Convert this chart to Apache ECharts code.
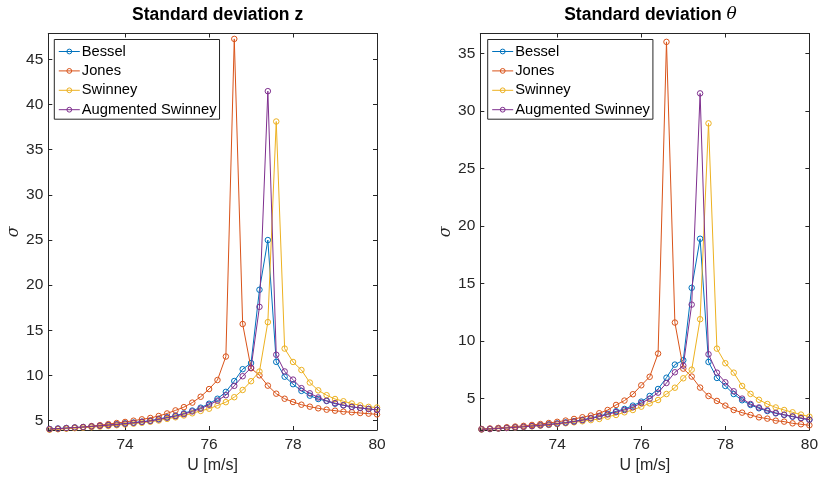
<!DOCTYPE html>
<html>
<head>
<meta charset="utf-8">
<script src="https://cdn.jsdelivr.net/npm/echarts@6/dist/echarts.min.js"></script>
<style>
html,body{margin:0;padding:0;background:#fff;}
#chart{width:821px;height:484px;}
</style>
</head>
<body>
<div id="chart"></div>
<script>
// Wind speed U [m/s]
var U = [72.2,72.4,72.6,72.8,73.0,73.2,73.4,73.6,73.8,74.0,
         74.2,74.4,74.6,74.8,75.0,75.2,75.4,75.6,75.8,76.0,
         76.2,76.4,76.6,76.8,77.0,77.2,77.4,77.6,77.8,78.0,
         78.2,78.4,78.6,78.8,79.0,79.2,79.4,79.6,79.8,80.0];

var seriesNames = ['Bessel','Jones','Swinney','Augmented Swinney'];

// Standard deviation z
var besselZ = [4.08,4.13,4.19,4.25,4.30,4.37,4.45,4.52,4.60,4.70,4.79,4.89,5.00,5.18,5.38,5.55,5.81,6.12,6.44,6.88,7.43,8.19,9.39,10.70,11.38,19.49,24.99,11.51,9.87,9.04,8.30,7.77,7.40,7.18,6.88,6.70,6.53,6.40,6.29,6.20];
var jonesZ = [4.05,4.08,4.15,4.22,4.30,4.40,4.50,4.62,4.74,4.86,5.00,5.15,5.30,5.52,5.80,6.14,6.50,7.00,7.65,8.50,9.50,12.10,47.25,15.70,10.80,10.02,8.88,7.99,7.43,7.07,6.77,6.55,6.37,6.22,6.11,6.00,5.93,5.85,5.78,5.70];
var swinneyZ = [4.00,4.06,4.12,4.17,4.23,4.28,4.35,4.42,4.50,4.58,4.67,4.77,4.88,5.02,5.20,5.38,5.58,5.82,6.08,6.33,6.68,7.05,7.60,8.40,9.37,10.44,15.91,38.11,12.98,11.50,10.61,9.22,8.36,7.82,7.40,7.15,6.90,6.70,6.53,6.46];
var augZ = [4.07,4.12,4.18,4.24,4.29,4.36,4.43,4.50,4.58,4.67,4.76,4.86,4.97,5.14,5.33,5.50,5.73,6.02,6.33,6.76,7.22,7.82,8.86,9.92,10.86,17.60,41.47,12.30,10.45,9.55,8.60,8.03,7.57,7.21,6.94,6.72,6.53,6.42,6.31,6.20];

// Standard deviation theta
var besselT = [2.30,2.33,2.38,2.43,2.48,2.53,2.59,2.66,2.73,2.81,2.90,3.00,3.12,3.28,3.46,3.66,3.87,4.07,4.36,4.71,5.20,5.81,6.79,7.93,8.31,14.61,18.88,8.16,6.77,6.07,5.37,4.83,4.42,4.13,3.89,3.69,3.55,3.40,3.26,3.13];
var jonesT = [2.33,2.37,2.42,2.48,2.54,2.60,2.68,2.76,2.85,2.95,3.06,3.20,3.35,3.50,3.70,3.98,4.42,4.80,5.35,6.13,6.87,8.89,36.01,11.59,7.58,6.89,5.93,5.20,4.77,4.36,3.98,3.75,3.55,3.34,3.23,3.05,2.97,2.82,2.74,2.65];
var swinneyT = [2.28,2.32,2.36,2.41,2.46,2.51,2.56,2.62,2.68,2.75,2.83,2.91,3.00,3.10,3.20,3.40,3.55,3.78,3.98,4.27,4.56,4.85,5.37,5.92,6.74,7.49,11.88,28.92,9.32,8.05,7.23,6.07,5.38,4.87,4.50,4.20,3.98,3.78,3.58,3.40];
var augT = [2.30,2.33,2.37,2.42,2.47,2.52,2.58,2.64,2.71,2.79,2.87,2.97,3.09,3.24,3.40,3.60,3.80,3.98,4.22,4.59,4.96,5.49,6.33,7.26,7.84,13.15,31.53,8.83,7.23,6.39,5.61,4.97,4.50,4.20,3.95,3.73,3.57,3.42,3.28,3.14];

var xTicks = [74,76,78,80];
var yTicksZ = [5,10,15,20,25,30,35,40,45];
var yTicksT = [5,10,15,20,25,30,35];

var colors = ['#0072BD','#D95319','#EDB120','#7E2F8E'];
var axisColor = '#262626';
var font = 'Liberation Sans, Arial, Helvetica, sans-serif';

var chart = echarts.init(document.getElementById('chart'), null, {renderer:'canvas'});

function pairs(vals){ return U.map(function(u,i){ return [u, vals[i]]; }); }

function mkX(gridIndex, pos, showLabel, withName){
  return {
    type:'value', gridIndex:gridIndex, position:pos, min:72.17, max:80,
    axisLine:{show:true, onZero:false, lineStyle:{color:axisColor, width:1}},
    axisTick:{show:true, inside:true, length:4, customValues:xTicks, lineStyle:{color:axisColor}},
    axisLabel:{show:showLabel, customValues:xTicks, color:axisColor, fontSize:15.5, fontFamily:font, margin:7},
    splitLine:{show:false},
    name: withName ? 'U [m/s]' : '',
    nameLocation:'middle', nameGap:27,
    nameTextStyle:{color:axisColor, fontSize:16, fontFamily:font}
  };
}
function mkY(gridIndex, pos, showLabel, min, max, ticks, withName, gap){
  return {
    type:'value', gridIndex:gridIndex, position:pos, min:min, max:max,
    axisLine:{show:true, onZero:false, lineStyle:{color:axisColor, width:1}},
    axisTick:{show:true, inside:true, length:4, customValues:ticks, lineStyle:{color:axisColor}},
    axisLabel:{show:showLabel, customValues:ticks, color:axisColor, fontSize:15.5, fontFamily:font, margin:5},
    splitLine:{show:false},
    name: withName ? 'σ' : '',
    nameLocation:'middle', nameGap:gap || 28,
    nameTextStyle:{color:axisColor, fontSize:16, fontStyle:'italic', fontFamily:'DejaVu Serif, serif'}
  };
}

var allData = [[besselZ, jonesZ, swinneyZ, augZ],[besselT, jonesT, swinneyT, augT]];
var series = [];
for (var g=0; g<2; g++){
  for (var s=0; s<4; s++){
    series.push({
      type:'line', name:seriesNames[s],
      xAxisIndex: g*2, yAxisIndex: g*2,
      data: pairs(allData[g][s]),
      symbol:'circle', symbolSize:5.5,
      showAllSymbol:true,
      color: colors[s],
      lineStyle:{color:colors[s], width:1},
      itemStyle:{color:'rgba(255,255,255,0)', borderColor:colors[s], borderWidth:1},
      emphasis:{disabled:true},
      z: 2+s
    });
  }
}

function mkLegend(left){
  return {
    left:left, top:39.5, orient:'vertical',
    data:seriesNames,
    backgroundColor:'#fff', borderColor:axisColor, borderWidth:1, borderRadius:0,
    padding:[4,3,1.5,4],
    itemWidth:21, itemHeight:6, itemGap:3.4,
    itemStyle:{borderWidth:1},
    lineStyle:{width:1},
    textStyle:{color:'#000', fontSize:14.7, fontFamily:font, lineHeight:16, padding:[0,0,0,-3]},
    selectedMode:false
  };
}

var option = {
  animation:false,
  backgroundColor:'#fff',
  title:[
    {text:'Standard deviation z', left:212.6, top:1, textAlign:'center',
     textStyle:{fontWeight:'bold', fontSize:17.5, color:'#000', fontFamily:font}},
    {text:'{b|Standard deviation }{i|θ}', left:645.5, top:1, textAlign:'center',
     textStyle:{fontWeight:'normal', rich:{
       b:{fontWeight:'bold', fontSize:17.5, color:'#000', fontFamily:font},
       i:{fontWeight:'normal', fontStyle:'italic', fontSize:17, color:'#000', fontFamily:'DejaVu Serif, serif'}
     }}}
  ],
  legend:[mkLegend(54.3), mkLegend(487.7)],
  grid:[
    {left:48.3, top:33.5, width:328.7, height:396.5},
    {left:480.3, top:33.5, width:330.4, height:396.5}
  ],
  xAxis:[
    mkX(0,'bottom',true,true), mkX(0,'top',false,false),
    mkX(1,'bottom',true,true), mkX(1,'top',false,false)
  ],
  yAxis:[
    mkY(0,'left',true,3.97,47.85,yTicksZ,true,25), mkY(0,'right',false,3.97,47.85,yTicksZ,false),
    mkY(1,'left',true,2.24,36.74,yTicksT,true,23), mkY(1,'right',false,2.24,36.74,yTicksT,false)
  ],
  series:series
};
chart.setOption(option);
</script>
</body>
</html>
